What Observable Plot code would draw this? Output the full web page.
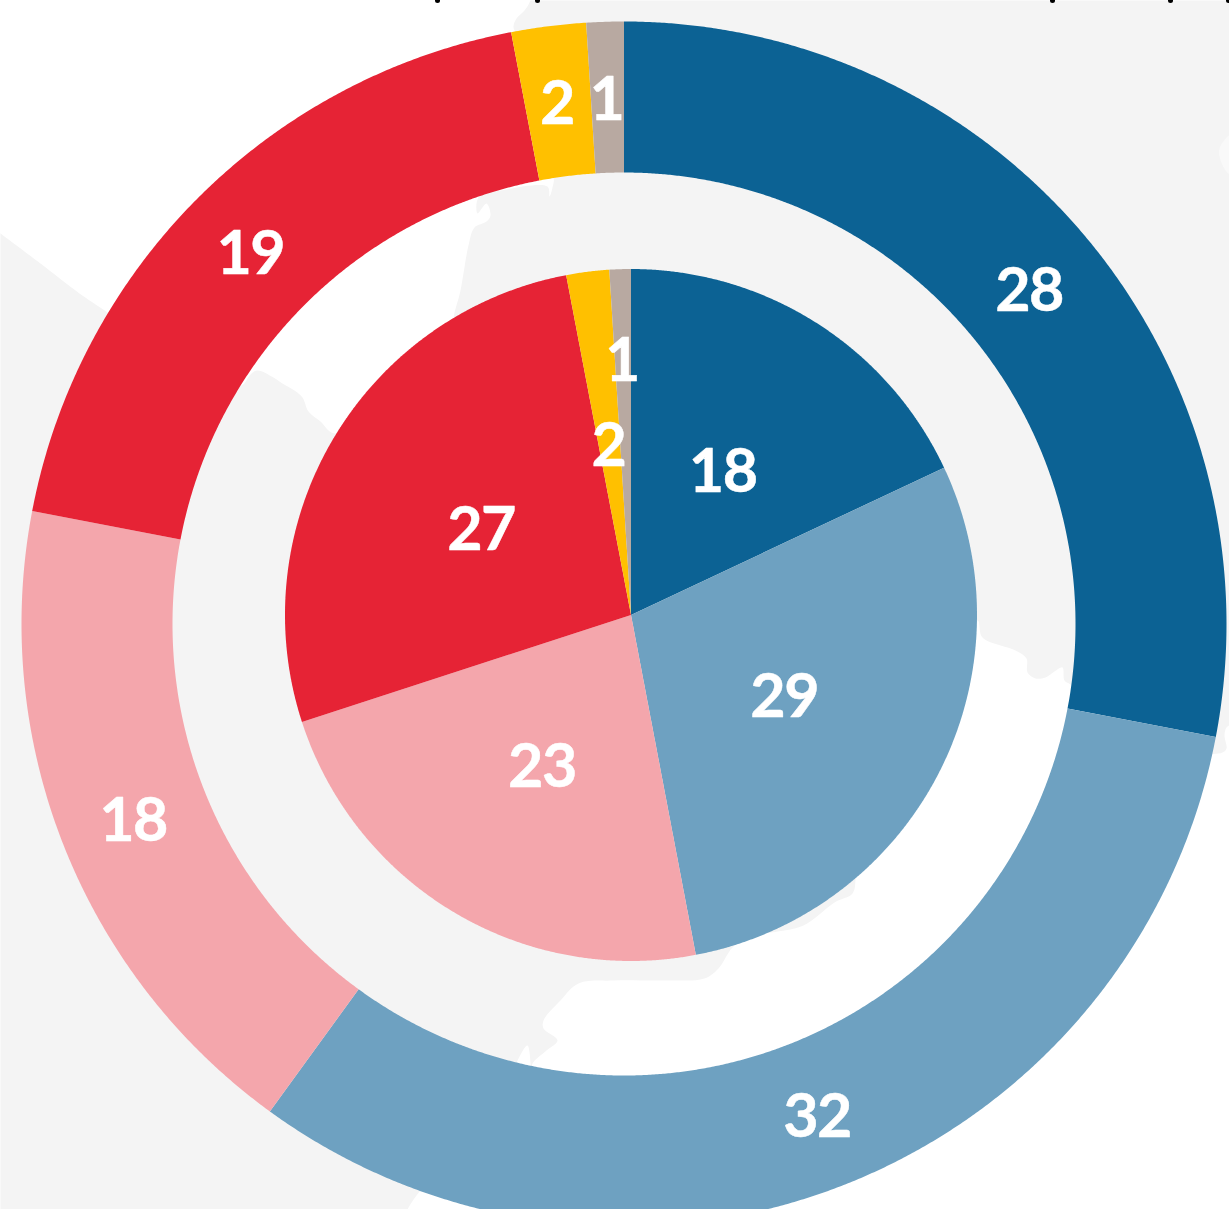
<!DOCTYPE html>
<html>
<head>
<meta charset="utf-8">
<script src="https://cdn.jsdelivr.net/npm/d3@7"></script>
<script src="https://cdn.jsdelivr.net/npm/@observablehq/plot@0.6"></script>
<style>
html,body{margin:0;padding:0;background:#fff;overflow:hidden}
svg{display:block}
svg text{letter-spacing:-1.5px;font-kerning:none}
</style>
</head>
<body>
<div id="chart"></div>
<script>
const categories = ["dark blue", "light blue", "pink", "red", "gold", "taupe"];
const colours = ["#0c6294", "#6ea1c1", "#f4a6ac", "#e62335", "#ffc000", "#b8a9a1"];
const outerValues = [28, 32, 18, 19, 2, 1];
const innerValues = [18, 29, 23, 27, 2, 1];
const innerLabelRadius = [173, 173, 173, 173, 173, 257];

const landColour = "#f4f4f4";
const waterColour = "#ffffff";
const lakeColour = "#f9f9f9";

const waterNorth = [[-5,-5],[530,-5],[529,2],[524,10],[516,18],[513,27],[518,36],[545,100],[548,178],[553,178],[552,187],[549,196],[547,186],[500,190],[478,197],[477,213],[486,203],[490,215],[486,221],[474,227],[468,245],[460,290],[453,317],[440,400],[334,433],[320,421],[308,411],[302,397],[294,390],[282,383],[273,377],[257,370],[250,374],[241,385],[200,380],[107,312],[79,293],[40,263],[0,233],[-5,229]];
const waterSouth = [[1234,722],[1226,727],[1224,735],[1226,748],[1222,752],[1205,753],[1120,730],[1070,684],[1064,680],[1062,667],[1054,671],[1045,677],[1035,678],[1027,672],[1026,658],[1015,650],[982,637],[977,620],[900,800],[855,870],[855,880],[852,893],[834,902],[803,925],[771,932],[750,935],[732,947],[718,968],[704,978],[666,980],[613,980],[578,983],[560,1000],[543,1020],[543,1028],[557,1040],[546,1050],[532,1063],[531,1070],[527,1045],[517,1060],[490,1120],[420,1190],[407,1209],[405,1214],[1234,1214]];
const lake = [[1234,132],[1226,137],[1219,148],[1219,156],[1225,170],[1234,178]];
const croppedTitleMarks = [[437,0],[537,0],[1052,0],[1170,0],[1228,0]];

const toRows = (points, part) => points.map(([x, y]) => ({x, y, part}));

const outerCentre = [623.5, 623.5], outerR = [451.5, 602.5];
const innerCentre = [630.5, 614.5], innerR = [0, 346];

function polar([cx, cy], r, turn) {
  const a = turn / 100 * 2 * Math.PI;
  return [cx + r * Math.sin(a), cy - r * Math.cos(a)];
}
function ringRows(values, centre, [r0, r1], ring) {
  let cum = 0;
  const rows = [];
  values.forEach((v, i) => {
    const a = cum, b = cum + v;
    const n = Math.max(8, Math.ceil(v * 16));
    const turns = d3.range(n + 1).map(k => a + (b - a) * k / n);
    const pts = turns.map(t => polar(centre, r1, t));
    const back = r0 > 0 ? turns.slice().reverse().map(t => polar(centre, r0, t)) : [centre];
    for (const [x, y] of pts.concat(back)) rows.push({x, y, key: ring + i, category: categories[i]});
    cum = b;
  });
  return rows;
}
function labelRows(values, centre, radii) {
  let cum = 0;
  return values.map((v, i) => {
    const [x, y] = polar(centre, radii[i], cum + v / 2);
    cum += v;
    return {x, y, label: String(v)};
  });
}
const outerMid = (outerR[0] + outerR[1]) / 2;

const labelStyle = {
  x: "x", y: "y", text: "label", fill: "#fff", stroke: "#fff", strokeWidth: 0.5,
  fontFamily: "Lato, 'Open Sans', sans-serif", fontWeight: 700, fontSize: 61,
  textAnchor: "middle", lineAnchor: "middle", dy: 3.5, dx: -1
};

const chart = Plot.plot({
  width: 1229, height: 1209,
  marginTop: 0, marginRight: 0, marginBottom: 0, marginLeft: 0,
  style: {background: "#fff", overflow: "hidden"},
  x: {domain: [0, 1229], range: [0, 1229], axis: null},
  y: {domain: [0, 1209], range: [0, 1209], axis: null},
  color: {domain: categories, range: colours},
  marks: [
    Plot.frame({fill: landColour, stroke: "none"}),
    Plot.line(toRows(waterNorth, "n"), {x: "x", y: "y", z: "part", fill: waterColour, stroke: "none", curve: "catmull-rom"}),
    Plot.line(toRows(waterSouth, "s"), {x: "x", y: "y", z: "part", fill: waterColour, stroke: "none", curve: "catmull-rom"}),
    Plot.line(toRows(lake, "l"), {x: "x", y: "y", z: "part", fill: lakeColour, stroke: "none", curve: "catmull-rom"}),
    Plot.dot(toRows(croppedTitleMarks, "t"), {x: "x", y: "y", r: 2.5, fill: "#000", stroke: "none"}),
    Plot.line(ringRows(outerValues, outerCentre, outerR, "o"), {x: "x", y: "y", z: "key", fill: "category", stroke: "none", curve: "linear"}),
    Plot.line(ringRows(innerValues, innerCentre, innerR, "i"), {x: "x", y: "y", z: "key", fill: "category", stroke: "none", curve: "linear"}),
    Plot.text(labelRows(outerValues, outerCentre, outerValues.map(() => outerMid)), labelStyle),
    Plot.text(labelRows(innerValues, innerCentre, innerLabelRadius), labelStyle)
  ]
});
document.getElementById("chart").append(chart);
</script>
</body>
</html>
